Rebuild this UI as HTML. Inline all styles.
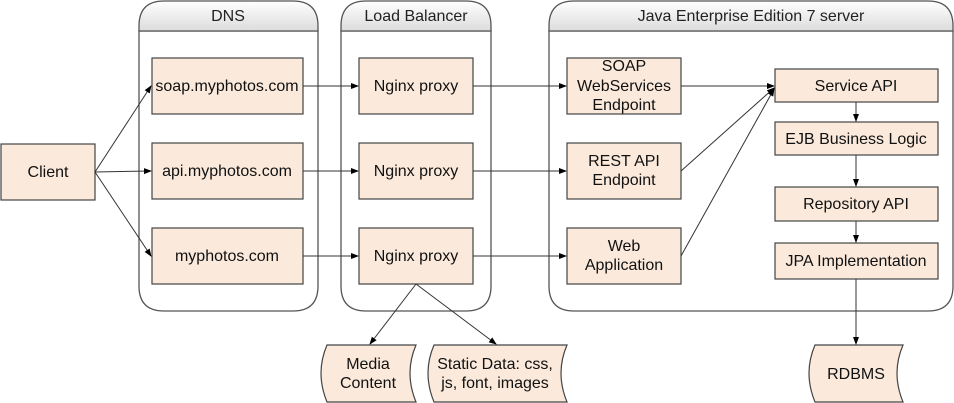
<!DOCTYPE html>
<html><head><meta charset="utf-8"><style>
body{margin:0;background:#fff;}
svg{display:block;font-family:"Liberation Sans",Arial,sans-serif;}
</style></head><body>
<svg width="954" height="403" viewBox="0 0 954 403" xmlns="http://www.w3.org/2000/svg">
<defs>
<linearGradient id="hg" x1="0" y1="0" x2="0" y2="1"><stop offset="0" stop-color="#ffffff"/><stop offset="1" stop-color="#dcdcdc"/></linearGradient>
<marker id="ar" markerWidth="8" markerHeight="8" refX="7" refY="4" orient="auto" markerUnits="userSpaceOnUse"><path d="M0,1 L8,4 L0,7 z" fill="#000"/></marker>
</defs>
<g stroke="#555" stroke-width="1.3" fill="#fff">
<path d="M139,31 V286 Q139,311 164,311 H293 Q318,311 318,286 V31 Z"/>
<path d="M139,31 V26 Q139,1 164,1 H293 Q318,1 318,26 V31 Z" fill="url(#hg)"/>
<path d="M341,31 V286 Q341,311 366,311 H466 Q491,311 491,286 V31 Z"/>
<path d="M341,31 V26 Q341,1 366,1 H466 Q491,1 491,26 V31 Z" fill="url(#hg)"/>
<path d="M549,31 V286 Q549,311 574,311 H928 Q953,311 953,286 V31 Z"/>
<path d="M549,31 V26 Q549,1 574,1 H928 Q953,1 953,26 V31 Z" fill="url(#hg)"/>
</g>
<g font-size="16" text-anchor="middle" fill="#222">
<text x="228" y="21">DNS</text>
<text x="416" y="21">Load Balancer</text>
<text x="751" y="21">Java Enterprise Edition 7 server</text>
</g>
<g stroke="#444" stroke-width="1.2" fill="#fbeadc">
<rect x="1" y="144" width="94" height="56"/>
<rect x="152" y="58" width="151" height="56"/>
<rect x="152" y="143" width="151" height="56"/>
<rect x="152" y="228" width="151" height="56"/>
<rect x="359" y="58" width="114" height="56"/>
<rect x="359" y="143" width="114" height="56"/>
<rect x="359" y="228" width="114" height="56"/>
<rect x="567" y="58" width="114" height="56"/>
<rect x="567" y="143" width="114" height="56"/>
<rect x="567" y="228" width="114" height="56"/>
<rect x="775" y="69" width="163" height="33"/>
<rect x="775" y="122" width="163" height="33"/>
<rect x="775" y="187" width="163" height="34"/>
<rect x="775" y="243" width="163" height="36"/>
<path d="M327,345 H416 Q404,373 416,402 H327 Q315,373 327,345 Z"/>
<path d="M434,345 H567 Q555,373 567,402 H434 Q422,373 434,345 Z"/>
<path d="M815,345 H903 Q891,373 903,402 H815 Q803,373 815,345 Z"/>
</g>
<g stroke="#333" stroke-width="1" fill="none" marker-end="url(#ar)">
<line x1="95" y1="172" x2="151" y2="86"/>
<line x1="95" y1="172" x2="151" y2="171"/>
<line x1="95" y1="172" x2="151" y2="256"/>
<line x1="303" y1="86" x2="358" y2="86"/>
<line x1="303" y1="171" x2="358" y2="171"/>
<line x1="303" y1="256" x2="358" y2="256"/>
<line x1="473" y1="86" x2="566" y2="86"/>
<line x1="473" y1="171" x2="566" y2="171"/>
<line x1="473" y1="256" x2="566" y2="256"/>
<line x1="681" y1="86" x2="774" y2="86"/>
<line x1="681" y1="171" x2="774" y2="88"/>
<line x1="681" y1="256" x2="774" y2="89"/>
<line x1="856" y1="102" x2="856" y2="121"/>
<line x1="856" y1="155" x2="856" y2="186"/>
<line x1="856" y1="221" x2="856" y2="242"/>
<line x1="856" y1="279" x2="856" y2="344"/>
<line x1="416" y1="284" x2="370" y2="344"/>
<line x1="416" y1="284" x2="496" y2="344"/>
</g>
<g font-size="16" text-anchor="middle" fill="#111">
<text x="48" y="177">Client</text>
<text x="227" y="91">soap.myphotos.com</text>
<text x="227" y="176">api.myphotos.com</text>
<text x="227" y="261">myphotos.com</text>
<text x="416" y="91">Nginx proxy</text>
<text x="416" y="176">Nginx proxy</text>
<text x="416" y="261">Nginx proxy</text>
<text x="624" y="71">SOAP</text>
<text x="624" y="91">WebServices</text>
<text x="624" y="110">Endpoint</text>
<text x="624" y="166">REST API</text>
<text x="624" y="185">Endpoint</text>
<text x="624" y="251">Web</text>
<text x="624" y="270">Application</text>
<text x="856" y="91">Service API</text>
<text x="856" y="144">EJB Business Logic</text>
<text x="856" y="209">Repository API</text>
<text x="856" y="266">JPA Implementation</text>
<text x="368" y="369">Media</text>
<text x="368" y="388">Content</text>
<text x="495" y="369">Static Data: css,</text>
<text x="495" y="388">js, font, images</text>
<text x="856" y="379">RDBMS</text>
</g>
</svg>
</body></html>
